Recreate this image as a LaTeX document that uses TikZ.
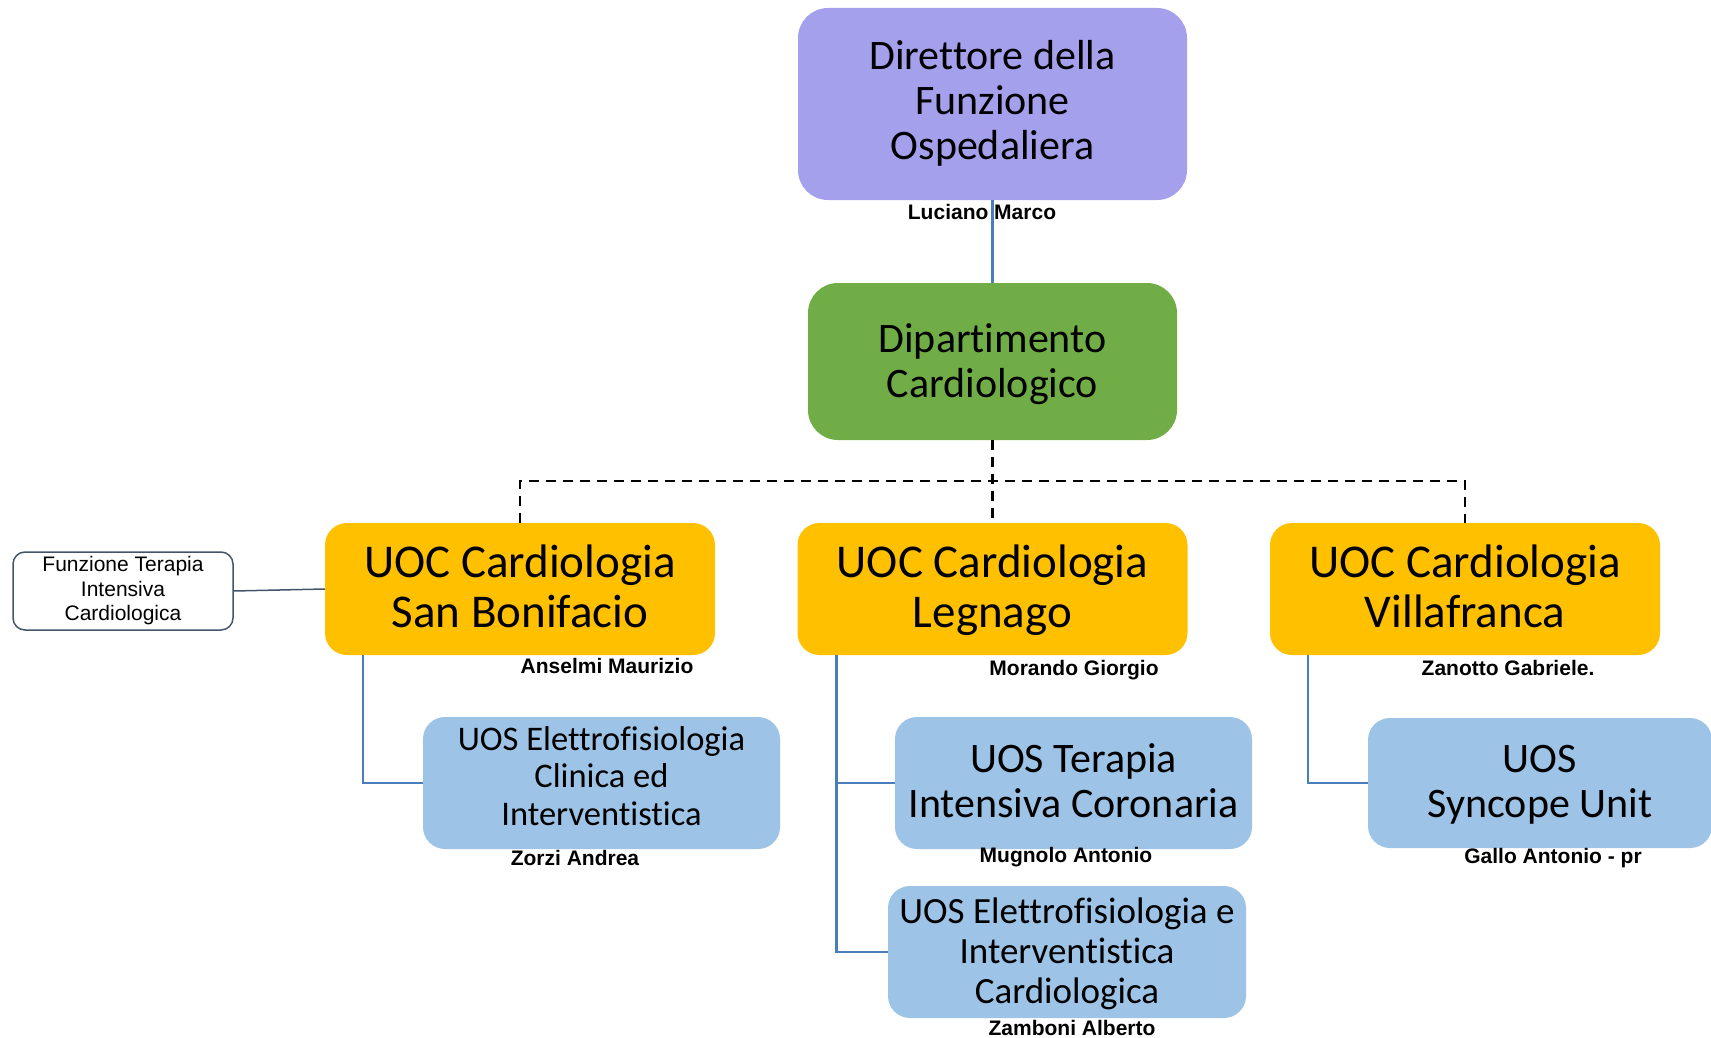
\documentclass[tikz,border=0pt]{standalone}
\usepackage{fontspec}
\setmainfont{Carlito}[Ligatures=CommonOff]
\newfontfamily\arialfont{Liberation Sans}
\definecolor{purplebox}{RGB}{165,160,236}
\definecolor{greenbox}{RGB}{112,173,71}
\definecolor{goldbox}{RGB}{255,192,0}
\definecolor{bluebox}{RGB}{157,195,230}
\definecolor{linkblue}{RGB}{74,126,187}
\definecolor{slate}{RGB}{68,84,106}
\begin{document}
\begin{tikzpicture}[x=1pt,y=-1pt,
  cbox/.style={rectangle, inner sep=0pt, align=center, text=black},
  struts/.style 2 args={execute at begin node={\rule{0pt}{#1pt}}, execute at end node={\rule[-#2pt]{0pt}{0pt}}},
  topbox/.style={cbox, fill=purplebox, rounded corners=30pt, font=\fontsize{42}{45}\selectfont},
  depbox/.style={cbox, fill=greenbox, rounded corners=30pt, font=\fontsize{42}{45}\selectfont},
  uocbox/.style={cbox, fill=goldbox, rounded corners=22pt, minimum width=390pt, minimum height=132pt, font=\fontsize{47}{50}\selectfont, struts={96}{20}},
  uosbox/.style={cbox, fill=bluebox, rounded corners=22pt, minimum height=132pt},
  sidebox/.style={cbox, draw=slate, line width=1.5pt, rounded corners=12pt, minimum width=220pt, minimum height=78pt, font=\arialfont\fontsize{21}{24.5}\selectfont},
  person/.style={inner sep=0pt, font=\arialfont\bfseries\fontsize{21}{24}\selectfont},
  link/.style={draw=linkblue, line width=2.5pt},
  dashlink/.style={draw=black, line width=2.5pt, dash pattern=on 10pt off 7pt},
  sidelink/.style={draw=slate, line width=1.5pt}]
\useasboundingbox (0,0) rectangle (1711,1038);
% boxes
\node[topbox, minimum width=389pt, minimum height=192pt, struts={132}{20}] (dir) at (992.5,104) {Direttore della\\Funzione\\Ospedaliera};
\node[depbox, minimum width=369pt, minimum height=157pt, struts={91}{20}] (dep) at (992.5,361.5) {Dipartimento\\Cardiologico};
\node[uocbox] (u1) at (520,589) {UOC Cardiologia\\San Bonifacio};
\node[uocbox] (u2) at (992.5,589) {UOC Cardiologia\\Legnago};
\node[uocbox] (u3) at (1465,589) {UOC Cardiologia\\Villafranca};
\node[uosbox, minimum width=357pt, font=\fontsize{34.5}{37.5}\selectfont, struts={104}{20}] (s1) at (601.5,783) {UOS Elettrofisiologia\\Clinica ed\\Interventistica};
\node[uosbox, minimum width=357pt, font=\fontsize{42}{45}\selectfont, struts={88}{20}] (s2) at (1073.5,783) {UOS Terapia\\Intensiva Coronaria};
\node[uosbox, minimum width=358pt, font=\fontsize{37}{40}\selectfont, struts={112}{10}] (s3) at (1067,952) {UOS Elettrofisiologia e\\Interventistica\\Cardiologica};
\node[uosbox, minimum width=344pt, minimum height=130pt, font=\fontsize{42}{45}\selectfont, struts={88}{20}] (s4) at (1540,783) {UOS\\Syncope Unit};
\node[sidebox] (f) at (123,591) {Funzione Terapia\\Intensiva\\Cardiologica};
% names
\node[person] (n0) at (982,212) {Luciano Marco};
\node[person] (n1) at (607,666) {Anselmi Maurizio};
\node[person] (n2) at (1074,670) {Morando Giorgio};
\node[person] (n3) at (1508,668) {Zanotto Gabriele.};
\node[person] (n4) at (575,858) {Zorzi Andrea};
\node[person] (n5) at (1066,857) {Mugnolo Antonio};
\node[person] (n6) at (1553,858) {Gallo Antonio - pr};
\node[person] (n7) at (1072,1028) {Zamboni Alberto};
% connectors
\coordinate (bus) at (992.5,481);
\draw[link] (dir.south) -- (dep.north);
\draw[dashlink] (dep.south) -- (u2.north);
\draw[dashlink] (u1.north) |- (bus) -| (u3.north);
\draw[link] ([xshift=38pt]u1.south west) |- (s1.west);
\draw[link] ([xshift=39pt]u2.south west) |- (s2.west);
\draw[link] ([xshift=39pt]u2.south west) |- (s3.west);
\draw[link] ([xshift=38pt]u3.south west) |- (s4.west);
\draw[sidelink] (f.east) -- (u1.west);
\end{tikzpicture}
\end{document}
